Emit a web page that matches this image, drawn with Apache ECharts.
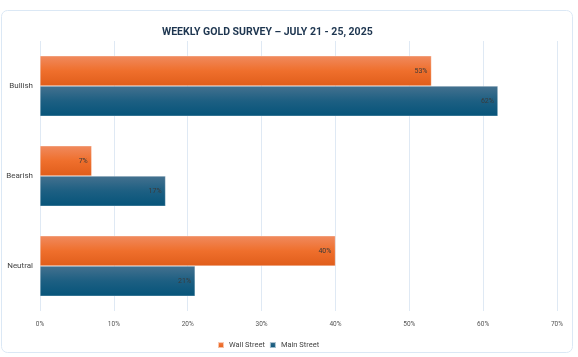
<!DOCTYPE html>
<html><head><meta charset="utf-8">
<script src="https://cdn.jsdelivr.net/npm/echarts@6/dist/echarts.min.js"></script>
<style>html,body{margin:0;padding:0;background:#fff}#c{width:578px;height:357px}</style>
</head><body><div id="c"></div>
<script>
const categories = ['Bullish', 'Bearish', 'Neutral'];
const wallStreet = [53, 7, 40];
const mainStreet = [62, 17, 21];
const xTicks = [0, 10, 20, 30, 40, 50, 60, 70];
const seriesNames = ['Wall Street', 'Main Street'];

const chart = echarts.init(document.getElementById('c'), null, {renderer: 'canvas'});
const grad = (a, b, c) => new echarts.graphic.LinearGradient(0, 0, 0, 1, [
  {offset: 0, color: a}, {offset: 0.5, color: b}, {offset: 1, color: c}]);
const lbl = {show: true, position: 'insideRight', distance: 4, fontSize: 7, color: '#3a3a3a',
  fontFamily: 'Roboto', formatter: p => p.value + '%'};
chart.setOption({
  animation: false,
  title: {text: 'WEEKLY GOLD SURVEY – JULY 21 - 25, 2025', left: 157, top: 22,
    textStyle: {fontSize: 10.5, fontWeight: 'bold', color: '#1e3650', fontFamily: 'Roboto'}},
  graphic: [{type: 'rect', shape: {x: 1.5, y: 10.5, width: 571, height: 342, r: 6},
    style: {fill: 'none', stroke: '#dbe8f5', lineWidth: 1}, silent: true}],
  legend: {data: seriesNames, left: 212, top: 336, itemWidth: 6, itemHeight: 6, itemGap: 4,
    icon: 'rect', textStyle: {fontSize: 7.5, color: '#444', fontFamily: 'Roboto'}},
  grid: {left: 40, right: 21, top: 41, bottom: 46, containLabel: false},
  xAxis: {type: 'value', min: xTicks[0], max: xTicks[xTicks.length - 1], interval: 10,
    axisLine: {show: false}, axisTick: {show: false},
    splitLine: {lineStyle: {color: '#dfe9f4', width: 1}},
    axisLabel: {formatter: '{value}%', fontSize: 6.5, color: '#555', margin: 10, fontFamily: 'Roboto'}},
  yAxis: {type: 'category', data: categories, inverse: true,
    axisLine: {show: false}, axisTick: {show: false},
    axisLabel: {fontSize: 8, color: '#444', margin: 7, fontFamily: 'Roboto'}},
  series: [
    {name: seriesNames[0], type: 'bar', data: wallStreet, barGap: '0%', barCategoryGap: '33%',
      itemStyle: {color: grad('#f08a5e', '#ef6f2c', '#e05d1b'), borderColor: 'rgba(255,255,255,0.6)', borderWidth: 0.5},
      label: lbl},
    {name: seriesNames[1], type: 'bar', data: mainStreet, barGap: '0%', barCategoryGap: '33%',
      itemStyle: {color: grad('#44718f', '#1d5f82', '#06547a'), borderColor: 'rgba(255,255,255,0.6)', borderWidth: 0.5},
      label: lbl}
  ]
});
</script></body></html>
